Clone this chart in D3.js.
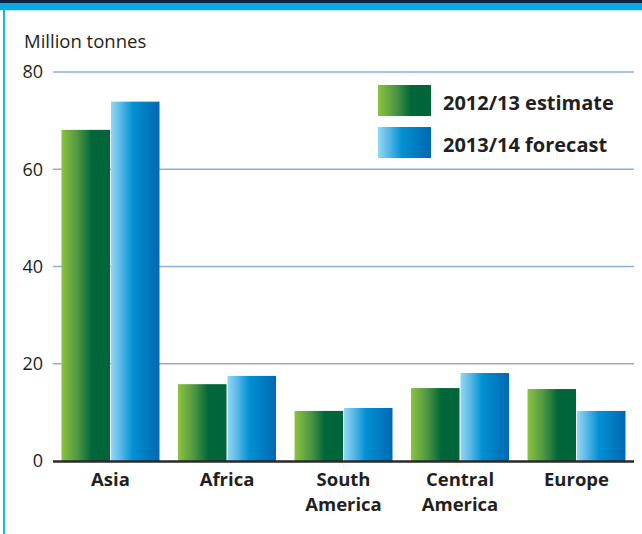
<!DOCTYPE html>
<html><head><meta charset="utf-8">
<script src="https://cdn.jsdelivr.net/npm/d3@7"></script>
<style>html,body{margin:0;padding:0;background:#fff;}svg{display:block;}</style>
</head><body>
<script>
const categories = ["Asia", "Africa", "South\nAmerica", "Central\nAmerica", "Europe"];
const seriesNames = ["2012/13 estimate", "2013/14 forecast"];
const estimate2012 = [68.1, 15.8, 10.3, 15.0, 14.8];
const forecast2013 = [73.9, 17.5, 10.9, 18.1, 10.3];
const yTicks = [0, 20, 40, 60, 80];

const W = 642, H = 534;
const svg = d3.select("body").append("svg").attr("width", W).attr("height", H);
const defs = svg.append("defs");
const gGreen = defs.append("linearGradient").attr("id", "gGreen").attr("x1", "0").attr("x2", "1").attr("y1", "0").attr("y2", "0");
[[0, "#8cc43f"], [0.35, "#4a9444"], [0.62, "#00673a"], [1, "#00653a"]].forEach(([o, c]) => gGreen.append("stop").attr("offset", o).attr("stop-color", c));
const gBlue = defs.append("linearGradient").attr("id", "gBlue").attr("x1", "0").attr("x2", "1").attr("y1", "0").attr("y2", "0");
[[0, "#92d8f6"], [0.2, "#5ab8e8"], [0.45, "#0091d3"], [1, "#0068b2"]].forEach(([o, c]) => gBlue.append("stop").attr("offset", o).attr("stop-color", c));
const fills = ["url(#gGreen)", "url(#gBlue)"];

// frame
svg.append("rect").attr("x", 0).attr("y", 0).attr("width", W).attr("height", 3).attr("fill", "#0c2340");
svg.append("rect").attr("x", 0).attr("y", 3).attr("width", W).attr("height", 7).attr("fill", "#0aa9df");
svg.append("rect").attr("x", 0).attr("y", 10).attr("width", W).attr("height", 1).attr("fill", "#bfe6f6");
svg.append("rect").attr("x", 3).attr("y", 10).attr("width", 2).attr("height", H - 10).attr("fill", "#1cb3ea");

const x0 = 53, x1 = 634;
const y = d3.scaleLinear().domain([0, 80]).range([461, 72]);
const x = d3.scaleBand().domain(categories).range([x0, x1]).paddingInner(0.159).paddingOuter(0.073);
const xs = d3.scaleBand().domain([0, 1]).range([0, x.bandwidth()]).paddingInner(0.02);

const font = "'Open Sans', 'DejaVu Sans', sans-serif";

// y axis labels and gridlines
const yAxis = d3.axisLeft(y).tickValues(yTicks).tickSize(0).tickPadding(10);
const ya = svg.append("g").attr("transform", `translate(${x0},0)`).call(yAxis);
ya.select(".domain").remove();
ya.selectAll("text").attr("font-family", font).attr("font-size", 18).attr("fill", "#231f20");
svg.append("g").selectAll("line").data(yTicks.filter(d => d > 0)).join("line")
  .attr("x1", x0).attr("x2", x1).attr("y1", d => y(d)).attr("y2", d => y(d))
  .attr("stroke", "#8eaee0").attr("stroke-width", 1.3);

svg.append("text").attr("x", 24).attr("y", 48).attr("font-family", font).attr("font-size", 18.5)
  .attr("fill", "#231f20").text("Million tonnes");

// bars
const data = [estimate2012, forecast2013];
categories.forEach((c, i) => {
  data.forEach((s, k) => {
    svg.append("rect").attr("x", x(c) + xs(k)).attr("width", xs.bandwidth())
      .attr("y", y(s[i])).attr("height", y(0) - y(s[i])).attr("fill", fills[k]);
  });
});

// zero line
svg.append("line").attr("x1", x0).attr("x2", x1).attr("y1", y(0) + 0.5).attr("y2", y(0) + 0.5)
  .attr("stroke", "#2b2828").attr("stroke-width", 2.6);

// category labels
const xa = svg.append("g");
categories.forEach(c => {
  const lines = c.split("\n");
  lines.forEach((ln, j) => {
    xa.append("text").attr("x", x(c) + x.bandwidth() / 2).attr("y", 485.5 + j * 25.3)
      .attr("text-anchor", "middle").attr("font-family", font).attr("font-weight", "bold")
      .attr("font-size", 18.5).attr("fill", "#231f20").text(ln);
  });
});

// legend
const leg = svg.append("g");
seriesNames.forEach((n, k) => {
  const ly = 85 + k * 42;
  leg.append("rect").attr("x", 378).attr("y", ly).attr("width", 53).attr("height", 31).attr("fill", fills[k]);
  leg.append("text").attr("x", 443).attr("y", ly + 25).attr("font-family", font).attr("font-weight", "bold")
    .attr("font-size", 20).attr("fill", "#231f20").text(n);
});
</script>
</body></html>
